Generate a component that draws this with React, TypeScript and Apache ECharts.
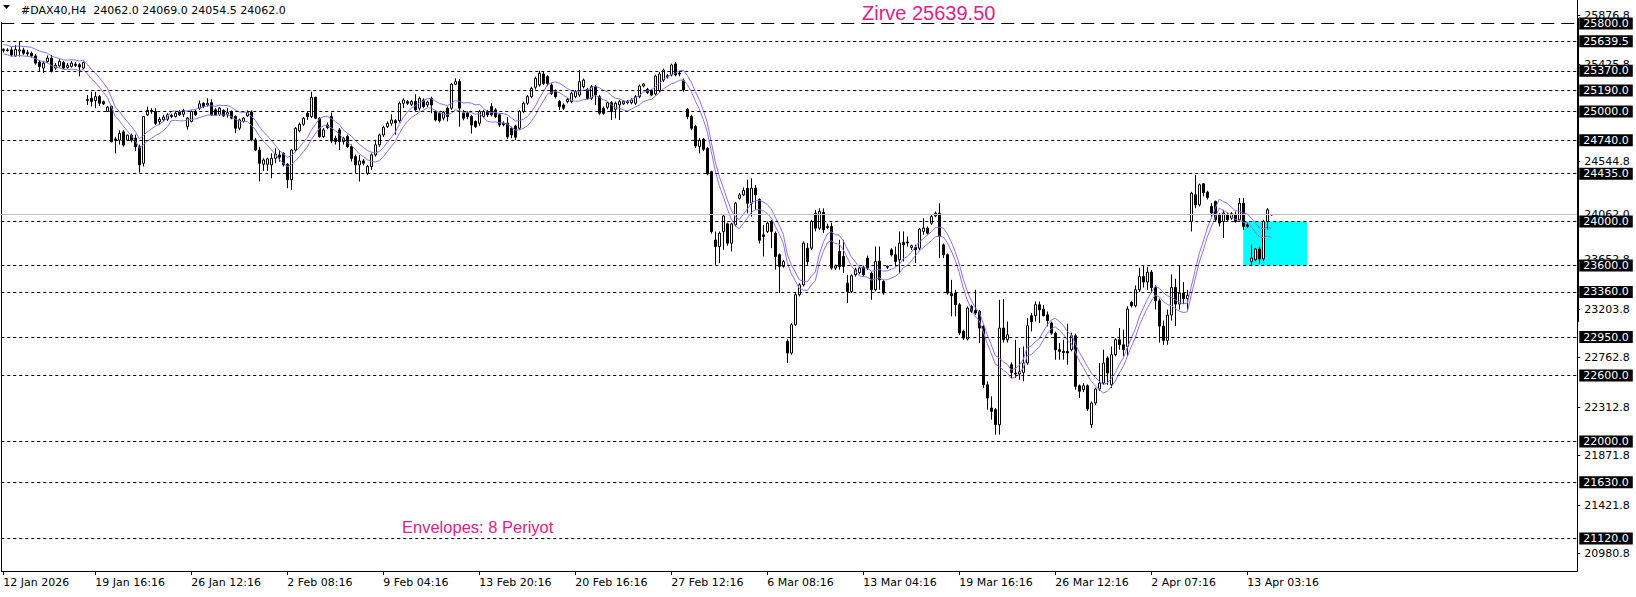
import React, { useEffect, useRef } from "react";
import * as echarts from "echarts";

// ---- price data (H4 bars, left to right) ----
const opens = [
25555,25560,25560,25505,25550,25560,25535,25530,25505,25450,25395,25455,25485,25395,25415,25445,25400,25410,25430,25425,
25395,25100,25120,25100,25135,25090,25000,25045,24750,24740,24815,24740,24785,24757,24680,24530,24970,25000,25000,24908,
24925,24930,24965,24955,25000,24975,24864,24910,25000,25030,25075,25060,25080,25015,24975,25010,24975,25000,24955,24848,
24910,24960,24995,24742,24650,24521,24521,24515,24575,24605,24620,24521,24380,24650,24824,24884,24984,24954,25129,24939,
24772,24878,24954,24757,24833,24727,24772,24681,24590,24515,24551,24439,24500,24606,24697,24787,24863,24893,24917,24917,
25075,25090,25066,25090,25030,25105,25060,25120,25000,24985,24940,25030,25030,25248,25272,24985,24985,24954,24909,24894,
24954,25000,25045,25015,24970,24894,24894,24848,24869,24848,25000,25075,25135,25220,25241,25341,25317,25241,25190,25090,
25060,25090,25090,25135,25150,25226,25200,25120,25226,25135,25030,25038,25080,25020,25060,25070,25080,25080,25075,25135,
25232,25202,25190,25160,25190,25286,25315,25332,25432,25350,25280,25020,24954,24863,24681,24748,24666,24454,23832,23773,
23909,23979,23803,23970,24212,24242,24303,24167,24303,24200,23879,23910,24000,23894,23698,23592,22911,22805,23062,23335,
23425,23758,23758,24076,23940,24082,23945,23955,23577,23728,23683,23440,23365,23516,23537,23586,23667,23531,23380,23640,
23456,23592,23743,23698,23652,23810,23815,23765,23767,23758,23910,23940,23985,24052,24076,23788,23698,23344,23350,23244,
23002,22932,23229,23192,23183,23047,22517,22305,22290,22154,23032,22926,22699,22623,22614,22629,22714,23144,23144,23244,
23204,23153,23077,22986,22835,22820,22820,22835,22962,22508,22472,22508,22154,22351,22478,22532,22759,22517,22790,22926,
22880,22865,23265,23235,23380,23500,23450,23540,23400,23280,23050,22920,23150,23400,23250,23350,23300,24001,24243,24152,
24343,24267,24137,24183,24062,24001,24062,24031,24062,24016,24167,23970,23638,23653,23750,23660,24001,24062
];
const highs = [
25575,25575,25590,25605,25635,25580,25560,25545,25520,25470,25460,25510,25515,25440,25475,25460,25440,25460,25450,25440,
25455,25150,25180,25180,25150,25100,25050,25055,24770,24830,24830,24790,24800,24790,24700,24960,25045,25030,25030,24950,
24970,24985,24980,24995,25015,25025,24950,25010,25015,25100,25085,25120,25110,25030,25040,25020,25030,25010,24965,24935,
24950,25010,25010,24760,24680,24575,24580,24620,24666,24650,24630,24530,24660,24860,24900,24950,25000,25181,25135,24950,
24850,24900,24990,24780,24850,24770,24790,24700,24610,24606,24570,24515,24620,24742,24800,24870,24910,24975,24930,25090,
25120,25105,25105,25157,25135,25120,25100,25135,25010,24995,25005,25045,25257,25302,25296,25015,25000,24970,24920,25015,
25015,25015,25075,25030,24985,24910,24950,24863,24880,25015,25090,25150,25226,25317,25371,25360,25330,25256,25200,25105,
25075,25125,25180,25195,25377,25300,25215,25241,25241,25150,25045,25090,25095,25090,25105,25105,25105,25120,25150,25245,
25260,25215,25205,25335,25360,25390,25340,25435,25450,25370,25300,25030,24970,24880,24757,24760,24680,24460,23909,23909,
24060,23990,23990,24180,24260,24310,24380,24394,24333,24210,23970,24000,24015,23910,23710,23650,22930,23075,23350,23440,
23820,23804,24015,24106,24120,24120,23980,23990,23610,23834,23834,23516,23520,23580,23590,23600,23690,23545,23773,23773,
23470,23600,23758,23773,23910,23910,23864,23790,23790,23940,24030,23955,24061,24091,24167,23800,23710,23470,23380,23259,
23017,23228,23244,23380,23198,23060,22547,22411,22305,23289,23295,23092,22720,22926,22850,22865,23122,23168,23274,23274,
23240,23183,23090,23000,22895,22925,23071,22990,22980,22520,22530,22520,22365,22490,22714,22835,22775,22865,22940,23032,
23017,23229,23280,23420,23580,23600,23590,23560,23420,23300,23100,23200,23520,23480,23600,23450,23380,24270,24425,24345,
24350,24280,24167,24190,24077,24107,24077,24086,24090,24213,24213,23990,23789,23760,23770,24016,24122,24069
];
const lows = [
25535,25545,25500,25500,25500,25515,25505,25490,25425,25365,25350,25440,25355,25380,25400,25385,25390,25400,25405,25320,
25385,25060,25045,25030,25050,25060,24995,24720,24620,24700,24680,24730,24720,24640,24445,24500,24960,24980,24878,24880,
24910,24915,24940,24945,24960,24950,24835,24900,24960,25015,25030,25045,24960,24960,24960,24950,24945,24930,24803,24830,
24900,24950,24730,24640,24365,24460,24460,24394,24530,24545,24500,24303,24288,24630,24810,24870,24924,24940,24930,24763,
24760,24840,24712,24700,24651,24700,24670,24545,24440,24364,24510,24424,24470,24590,24680,24770,24850,24870,24790,24900,
25030,25060,25050,25000,25010,25030,25040,24985,24910,24900,24920,24910,25015,25240,24863,24920,24930,24800,24850,24870,
24940,24950,24955,24940,24860,24865,24750,24757,24742,24833,24985,25060,25120,25200,25226,25240,25230,25150,25120,25014,
25014,25075,25075,25120,25135,25210,25105,25105,25060,24970,24970,25020,24923,24938,24923,25060,25065,25065,25060,25120,
25220,25160,25140,25145,25175,25270,25300,25320,25320,25320,25180,24930,24830,24670,24620,24640,24420,23890,23607,23622,
23743,23780,23728,23955,24200,24230,24076,24045,24106,23800,23683,23895,23758,23562,23350,23580,22714,22790,23050,23320,
23410,23607,23740,23910,23925,23895,23930,23562,23560,23562,23532,23259,23350,23500,23520,23500,23560,23289,23365,23380,
23335,23570,23683,23592,23531,23637,23773,23740,23622,23740,23880,23880,23970,24040,23667,23667,23335,23138,23138,22971,
22925,22920,23168,23153,22896,22487,22290,22199,22063,22063,22900,22900,22578,22578,22563,22548,22699,23002,23092,23077,
23138,23047,22971,22744,22744,22744,22699,22820,22472,22396,22450,22280,22124,22330,22460,22517,22517,22487,22775,22835,
22774,22774,23220,23220,23360,23400,23380,23350,23200,22900,22880,22880,23100,23050,23200,23250,23200,23910,24122,24137,
24228,24200,24031,24000,23956,23850,24001,24016,23990,24001,23925,23940,23607,23640,23620,23640,23925,24054.5
];
const closes = [
25565,25555,25515,25565,25560,25530,25525,25505,25440,25410,25440,25485,25365,25420,25455,25395,25420,25440,25420,25405,
25445,25110,25090,25135,25075,25070,25040,24725,24740,24800,24695,24785,24740,24680,24515,24955,25010,25010,24893,24930,
24950,24970,24955,24985,24970,25010,24940,25000,24970,25070,25045,25075,24970,24970,25030,24960,24990,24940,24848,24924,
24940,24990,24742,24650,24530,24560,24570,24575,24612,24585,24515,24379,24650,24848,24884,24939,24954,25129,24939,24772,
24833,24854,24733,24727,24727,24757,24681,24575,24515,24551,24530,24500,24606,24697,24787,24854,24893,24923,24896,25075,
25105,25075,25090,25015,25120,25045,25085,25060,24924,24917,24994,24954,25248,25272,25030,24940,24954,24878,24863,25000,
25000,24970,24970,24954,24878,24880,24770,24787,24767,25000,25075,25135,25211,25302,25347,25256,25256,25165,25135,25045,
25030,25110,25165,25180,25271,25286,25120,25226,25150,24984,24984,25080,25000,25075,25090,25090,25090,25105,25135,25232,
25250,25172,25150,25323,25341,25377,25325,25423,25332,25340,25196,24954,24848,24687,24740,24657,24433,23909,23773,23894,
24051,23803,23979,24167,24242,24282,24167,24303,24242,23830,23864,23985,23910,23683,23592,23637,22805,23062,23335,23425,
23804,23637,24000,23940,24091,23925,23955,23577,23598,23592,23592,23365,23507,23562,23577,23516,23577,23380,23637,23470,
23350,23585,23698,23637,23804,23789,23805,23780,23743,23931,23940,23894,24045,24076,23864,23698,23350,23325,23244,22987,
22941,23214,23183,23168,23032,22517,22396,22275,22154,23032,22926,22971,22629,22614,22635,22714,23053,23092,23244,23198,
23144,23101,22986,22835,22820,22810,22805,22962,22502,22457,22508,22296,22351,22478,22532,22714,22623,22790,22926,22880,
22835,23204,23235,23380,23500,23450,23540,23400,23280,23050,22920,23150,23400,23250,23350,23300,23330,24258,24152,24334,
24264,24219,24077,24016,23986,24077,24016,24071,24001,24167,23956,23956,23668,23750,23660,24001,24107,24062
];

// bar index -> time label shown on the time axis
const dateTicks: [number, string][] = [
  [0, "12 Jan 2026"], [23, "19 Jan 16:16"], [47, "26 Jan 12:16"], [71, "2 Feb 08:16"],
  [95, "9 Feb 04:16"], [119, "13 Feb 20:16"], [143, "20 Feb 16:16"], [167, "27 Feb 12:16"],
  [191, "6 Mar 08:16"], [215, "13 Mar 04:16"], [239, "19 Mar 16:16"], [263, "26 Mar 12:16"],
  [287, "2 Apr 07:16"], [311, "13 Apr 03:16"],
];

// price scale ticks
const priceTicks = [20980.8, 21421.8, 21871.8, 22312.8, 22762.8, 23203.8, 23652.8, 24544.8, 25425.8, 25876.8];
// horizontal levels (drawn lines with boxed labels)
const levels = [25800, 25639.5, 25370, 25190, 25000, 24740, 24435, 24000, 23600, 23360, 22950, 22600, 22000, 21630, 21120];
const lastPrice = 24062.0;
const zoneTop = 24000;
const zoneBottom = 23600;
const zoneStartBar = 310;
const zoneEndBar = 326;

const TOTAL_SLOTS = 394;
const MA_PERIOD = 8;
const ENV_DEV = 0.17; // percent
const FONT = "DejaVu Sans";

function movingAverage(vals: number[], period: number): number[] {
  return vals.map((_, i) => {
    const s = Math.max(0, i - period + 1);
    const win = vals.slice(s, i + 1);
    return win.reduce((a, b) => a + b, 0) / win.length;
  });
}

export default function App() {
  const ref = useRef<HTMLDivElement>(null);
  useEffect(() => {
    document.body.style.margin = "0";
    const chart = echarts.init(ref.current!, null, { renderer: "svg" });
    const candles = opens.map((o, i) => [o, closes[i], lows[i], highs[i]]);
    const ma = movingAverage(closes, MA_PERIOD);
    const upper = ma.map((v) => +(v * (1 + ENV_DEV / 100)).toFixed(1));
    const lower = ma.map((v) => +(v * (1 - ENV_DEV / 100)).toFixed(1));
    const cats = Array.from({ length: TOTAL_SLOTS }, (_, i) => String(i));
    const tickMap = new Map<number, string>(dateTicks);
    const showTick = (i: number) => tickMap.has(i);

    const levelLines = levels.map((lv) => ({
      yAxis: lv,
      lineStyle: { color: "#000", width: 1, type: lv === 25800 ? [13, 7] : [3, 3] },
      label: {
        show: true,
        position: "end",
        formatter: lv.toFixed(1),
        color: "#fff",
        backgroundColor: "#000",
        padding: [1, 4, 0, 4],
        fontFamily: FONT,
        fontSize: 11,
        distance: 2,
      },
    }));

    chart.setOption({
      animation: false,
      backgroundColor: "#fff",
      grid: { left: 1.3, top: 0, width: 1576, height: 571, containLabel: false },
      xAxis: {
        type: "category",
        data: cats,
        boundaryGap: true,
        axisLine: { show: true, lineStyle: { color: "#000", width: 1 } },
        axisTick: { show: true, alignWithLabel: true, interval: (i: number) => showTick(i), length: 4, lineStyle: { color: "#000" } },
        axisLabel: {
          interval: (i: number) => showTick(i),
          formatter: (_v: string, i: number) => tickMap.get(i) ?? "",
          align: "left",
          color: "#000",
          fontFamily: FONT,
          fontSize: 11,
          margin: 6,
        },
        splitLine: { show: false },
      },
      yAxis: {
        type: "value",
        position: "right",
        min: 20824,
        max: 26013.6,
        splitLine: { show: false },
        axisLine: { show: true, lineStyle: { color: "#000", width: 1 } },
        axisTick: { show: true, customValues: priceTicks, length: 3, lineStyle: { color: "#000" } },
        axisLabel: {
          customValues: priceTicks,
          formatter: (v: number) => v.toFixed(1),
          color: "#000",
          fontFamily: FONT,
          fontSize: 11,
          margin: 7,
        },
      },
      series: [
        {
          type: "candlestick",
          data: candles,
          barWidth: 3,
          itemStyle: { color: "#fff", color0: "#000", borderColor: "#000", borderColor0: "#000", borderWidth: 1 },
          markLine: {
            silent: true,
            symbol: ["none", "none"],
            animation: false,
            data: [
              {
                yAxis: lastPrice,
                lineStyle: { color: "#c0c0c0", width: 1, type: "solid" },
                label: { show: true, position: "end", formatter: lastPrice.toFixed(1), color: "#000", fontFamily: FONT, fontSize: 11, distance: 7 },
              },
              ...levelLines,
            ],
          },
          markArea: {
            silent: true,
            itemStyle: { color: "#00ffff" },
            data: [[{ xAxis: zoneStartBar, yAxis: zoneTop }, { xAxis: zoneEndBar, yAxis: zoneBottom }]],
          },
        },
        { type: "line", data: upper, symbol: "none", lineStyle: { color: "#8470ff", width: 1 }, silent: true },
        { type: "line", data: lower, symbol: "none", lineStyle: { color: "#9a6fd6", width: 1 }, silent: true },
      ],
      graphic: [
        { type: "line", shape: { x1: 1.5, y1: 22, x2: 1.5, y2: 571 }, style: { stroke: "#000", lineWidth: 1 } },
        { type: "rect", shape: { x: 1577, y: 18, width: 2, height: 304 }, style: { fill: "#000" } },
        { type: "polygon", shape: { points: [[3, 5], [10, 5], [6.5, 9]] }, style: { fill: "#000" } },
        { type: "text", x: 21, y: 5, style: { text: "#DAX40,H4  24062.0 24069.0 24054.5 24062.0", font: `11px '${FONT}'`, fill: "#000" } },
        { type: "text", x: 862, y: 13, style: { text: "Zirve 25639.50", font: "20px 'Liberation Sans'", fill: "#e0218a", verticalAlign: "middle" } },
        { type: "text", x: 402, y: 527, style: { text: "Envelopes: 8 Periyot", font: "16.5px 'Liberation Sans'", fill: "#e0218a", verticalAlign: "middle" } },
      ],
    });
    return () => chart.dispose();
  }, []);
  return <div ref={ref} style={{ width: 1636, height: 597, background: "#fff" }} />;
}
